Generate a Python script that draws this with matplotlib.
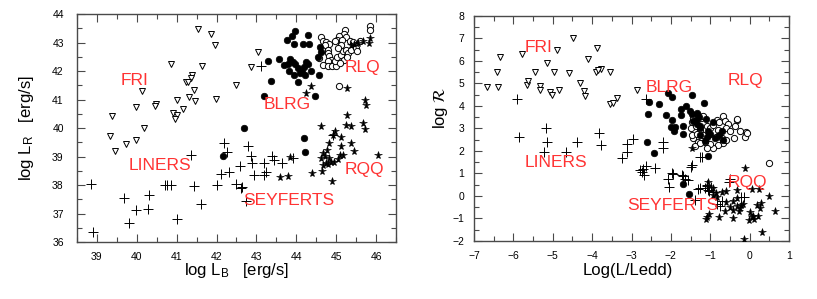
import matplotlib
matplotlib.use("Agg")
import matplotlib.pyplot as plt
from matplotlib.ticker import MultipleLocator

plt.rcParams['font.family'] = ['Liberation Sans', 'DejaVu Sans']
plt.rcParams['mathtext.fontset'] = 'custom'
plt.rcParams['mathtext.rm'] = 'Liberation Sans'
plt.rcParams['mathtext.it'] = 'Liberation Sans:italic'

# ---------------- LEFT PANEL DATA (log L_B, log L_R) ----------------
fri_lb = [41.54, 41.87, 41.95, 43.05, 42.86, 41.64, 40.85, 41.38, 41.37, 41.23, 41.28, 41.43, 41.31, 41.46,
          41.98, 42.50, 41.00, 41.17, 40.91, 41.02, 40.96, 40.13, 40.47, 40.45, 39.98, 39.38, 40.17, 39.32,
          39.99, 39.73, 39.46]
fri_lr = [43.46, 43.30, 42.92, 42.66, 42.15, 42.18, 42.23, 41.86, 41.74, 41.63, 41.60, 41.32, 41.08, 40.94,
          41.03, 41.50, 40.99, 40.67, 40.54, 40.45, 40.31, 41.31, 40.85, 40.77, 40.75, 40.43, 40.00, 39.71,
          39.59, 39.44, 39.18]

blrg_lb = [43.97, 43.89, 43.76, 44.30, 43.93, 44.16, 44.33, 44.60, 44.62, 43.28, 43.56, 43.85, 43.91, 43.79,
           43.97, 44.25, 44.29, 44.20, 43.81, 44.15, 44.10, 44.36, 44.22, 43.93, 44.58, 44.54, 44.04, 43.36,
           43.18, 44.47, 42.69, 44.20, 44.22, 42.16, 43.70, 44.05]
blrg_lr = [43.41, 43.24, 43.09, 43.27, 42.95, 42.94, 42.94, 42.85, 42.68, 42.34, 42.41, 42.41, 42.33, 42.25,
           42.25, 42.32, 42.24, 42.15, 42.01, 41.98, 41.92, 42.01, 41.86, 41.86, 41.85, 42.48, 41.62, 41.66,
           41.13, 41.13, 40.01, 39.64, 39.17, 39.02, 42.20, 42.10]

rlq_lb = [45.84, 45.86, 45.23, 45.19, 45.07, 45.25, 45.03, 45.15, 44.62, 44.67, 44.75, 44.83, 44.73, 44.65,
          44.79, 44.79, 44.83, 44.88, 44.79, 44.67, 44.79, 44.90, 45.00, 44.96, 45.03, 45.11, 45.17, 45.24,
          45.30, 45.38, 45.49, 45.52, 45.19, 45.28, 45.09, 44.96, 45.34, 45.42, 45.59, 45.13, 45.05, 45.07,
          44.58]
rlq_lr = [43.57, 43.45, 43.45, 43.30, 43.22, 43.19, 43.08, 43.10, 43.18, 43.06, 43.02, 42.95, 42.90, 42.75,
          42.75, 42.63, 42.52, 42.40, 42.34, 42.20, 42.16, 42.19, 42.16, 42.34, 42.48, 42.57, 42.69, 42.75,
          42.63, 42.75, 42.81, 42.69, 42.40, 42.48, 42.28, 43.04, 43.04, 43.02, 43.04, 42.90, 42.81, 41.46,
          42.46]

rqq_lb = [45.86, 45.83, 45.68, 45.55, 45.44, 45.38, 45.28, 44.36, 44.25, 45.73, 45.76, 45.28, 44.61, 45.24,
          45.36, 45.68, 45.72, 44.96, 44.92, 45.11, 44.83, 45.13, 45.36, 45.45, 44.77, 44.68, 44.71, 44.62,
          44.82, 44.88, 44.94, 44.75, 45.05, 45.17, 45.09, 44.67, 44.79, 46.05, 44.40, 44.64, 44.90, 43.60,
          43.79, 43.85]
rqq_lr = [43.16, 42.98, 43.06, 42.98, 42.95, 42.90, 41.40, 41.48, 41.23, 40.99, 40.81, 40.46, 40.08, 40.11,
          40.07, 40.19, 39.96, 39.91, 39.75, 39.67, 39.46, 39.37, 39.46, 39.20, 39.23, 39.11, 39.03, 38.94,
          38.94, 38.82, 38.82, 38.76, 38.90, 39.05, 39.05, 38.70, 38.73, 39.05, 38.43, 38.50, 38.15, 38.29,
          38.33, 38.97]

liners_lb = [38.89, 38.85, 39.67, 39.81, 39.99, 40.28, 40.30, 40.72, 40.76, 40.87, 41.00, 41.37, 41.43, 41.60,
             42.00]
liners_lr = [36.36, 38.04, 37.53, 36.66, 37.12, 37.15, 37.65, 38.00, 38.00, 38.00, 36.80, 39.05, 37.96, 37.33,
             38.00]

sey_lb = [42.11, 42.19, 42.25, 42.30, 42.48, 42.58, 42.65, 42.78, 42.86, 42.90, 42.93, 42.74, 43.11, 43.20,
          43.24, 43.18, 43.38, 43.45, 43.63, 43.91, 42.61, 44.92]
sey_lr = [38.39, 39.46, 39.17, 38.47, 38.04, 38.67, 37.92, 39.37, 39.02, 38.76, 38.35, 37.45, 42.19, 38.76,
          38.47, 38.35, 39.02, 38.88, 38.78, 38.94, 37.88, 39.75]

# ---------------- RIGHT PANEL DATA (log L/Ledd, log R) ----------------
fri_edd = [-6.66, -6.39, -6.41, -6.34, -5.79, -5.65, -5.62, -5.45, -5.32, -5.32, -5.14, -5.07, -5.03, -4.96,
           -4.89, -4.83, -4.58, -4.48, -4.31, -4.20, -4.17, -4.10, -3.87, -3.91, -3.78, -3.85, -3.54, -3.55,
           -3.46, -3.38, -2.87]
fri_r = [4.83, 4.83, 5.52, 6.17, 6.32, 4.95, 5.13, 5.52, 4.87, 4.73, 5.89, 4.61, 4.50, 5.52,
         6.51, 4.73, 5.47, 7.00, 5.00, 4.65, 4.43, 6.10, 6.59, 5.52, 5.65, 5.59, 5.52, 4.10,
         4.13, 4.36, 4.73]

blrg_edd = [-2.56, -2.30, -2.58, -2.13, -2.08, -1.97, -1.47, -1.16, -1.75, -1.62, -1.75, -1.98, -2.01, -1.90,
            -1.92, -1.69, -1.47, -1.35, -1.37, -1.28, -1.26, -1.11, -1.05, -0.94, -2.62, -1.52, -1.45, -1.33,
            -1.25, -1.26, -1.09, -1.01, -0.88, -0.77, -0.67, -0.71, -1.13, -1.70, -1.05, -1.69, -1.54, -2.42]
blrg_r = [4.18, 4.09, 3.66, 3.61, 4.58, 4.40, 4.47, 4.13, 3.88, 3.98, 3.58, 3.39, 3.06, 3.06,
          2.90, 2.75, 3.64, 3.69, 3.39, 3.51, 3.12, 3.42, 2.87, 3.31, 2.42, 3.76, 3.34, 3.20,
          3.02, 2.72, 2.64, 2.75, 2.57, 2.72, 2.50, 2.87, 2.45, 3.09, 1.77, 0.55, 0.07, 1.93]

rlq_edd = [-1.47, -1.43, -1.32, -1.23, -1.18, -1.49, -1.37, -1.26, -1.09, -1.01, -0.93, -0.84, -0.77, -0.67,
           -0.63, -0.55, -0.60, -0.50, -0.38, -0.32, -0.25, -0.10, -0.12, -0.40, -0.67, -0.80, -0.93, -1.01,
           -1.14, -1.31, -1.43, -1.47, -1.39, -1.26, -1.09, -0.86, -0.71, -0.59, -0.80, -1.05, -1.18, -1.35,
           0.49, -0.08, -0.33]
rlq_r = [3.31, 3.46, 3.61, 3.46, 3.54, 3.04, 3.09, 2.90, 3.09, 3.02, 3.17, 3.39, 3.29, 3.54,
         3.34, 3.20, 3.02, 2.87, 3.09, 3.39, 2.87, 2.84, 2.64, 2.57, 2.35, 2.27, 2.15, 2.30,
         2.42, 2.42, 2.57, 2.72, 2.20, 2.35, 2.13, 2.64, 2.57, 2.50, 2.94, 2.72, 2.72, 2.75,
         1.48, 2.82, 3.42]

rqq_edd = [-0.12, -1.05, -0.93, -0.32, 0.05, 0.23, 0.48, 0.64, -0.84, -0.86, -0.71, -0.60, -0.94, -0.59,
           -0.42, -0.32, -0.23, -0.33, -0.43, -0.27, -0.63, -0.50, -0.42, -0.79, -1.08, -1.11, -1.03, 0.01,
           0.05, 0.09, -0.01, 0.12, 0.22, 0.26, 0.19, 0.30, 0.32, -0.14, -1.47, -0.25, -0.18]
rqq_r = [1.24, 0.60, 0.37, 0.26, 0.31, 0.31, 0.02, -0.66, -0.04, 0.12, 0.16, 0.22, 0.04, -0.25,
         -0.23, -0.11, -0.38, -0.44, -0.63, -0.67, -0.65, -0.48, -1.00, -0.93, -0.95, -1.03, -0.78, -0.73,
         -0.95, -0.90, -1.08, -1.04, -0.90, -0.55, -0.41, -0.32, -1.58, -1.90, 2.15, -0.55, -0.36]

liners_edd = [-5.92, -5.17, -5.85, -5.14, -4.38, -3.82, -3.78, -3.11, -2.97, -5.22, -4.67, -3.12, -3.25]
liners_r = [4.33, 3.04, 2.62, 2.38, 2.42, 2.82, 2.27, 2.32, 2.53, 1.97, 1.97, 1.97, 1.68]

sey_edd = [-2.63, -2.70, -2.74, -2.69, -2.63, -2.21, -2.21, -2.79, -2.41, -1.98, -2.07, -2.04, -1.73, -1.64,
           -1.49, -1.25, -1.31, -1.14, -1.03, -1.08, -0.76, -0.82, -0.50, -0.15, -1.47, -1.22, -1.94, -1.69,
           -1.56, -1.26, -1.09, -0.97, -1.05, -0.93, -1.39, -0.71, -0.21, -0.52]
sey_r = [4.31, 1.19, 1.08, 0.93, 1.33, 2.42, 2.12, 1.16, 1.23, 1.01, 0.74, 0.41, 0.93, 0.74,
         1.30, 1.72, 0.29, 0.34, 0.23, 0.44, -0.45, -0.36, 0.74, -0.04, 1.38, 1.75, 0.96, 0.90,
         0.71, 0.37, 0.49, 0.41, 0.26, 0.16, -0.18, -0.23, -0.04, 0.63]

left_xticks = [39, 40, 41, 42, 43, 44, 45, 46]
left_yticks = [36, 37, 38, 39, 40, 41, 42, 43, 44]
right_xticks = [-7, -6, -5, -4, -3, -2, -1, 0, 1]
right_yticks = [-2, -1, 0, 1, 2, 3, 4, 5, 6, 7, 8]

# label text, anchor (left edge, vertical centre)
left_labels = [("FRI", 39.6, 41.65), ("BLRG", 43.18, 40.83), ("RLQ", 45.2, 42.14),
               ("LINERS", 39.8, 38.67), ("SEYFERTS", 42.68, 37.47), ("RQQ", 45.21, 38.56)]
right_labels = [("FRI", -5.71, 6.61), ("BLRG", -2.63, 4.84), ("RLQ", -0.57, 5.12),
                ("LINERS", -5.71, 1.50), ("SEYFERTS", -3.12, -0.43), ("RQQ", -0.57, 0.61)]

RED = '#ff3333'
FRAME = '#4a4a4a'

fig = plt.figure(figsize=(8.17, 2.99), dpi=100)
axL = fig.add_axes([0.0942, 0.1906, 0.3905, 0.7625])
axR = fig.add_axes([0.5802, 0.194, 0.3856, 0.7525])

def style(ax, xt, yt, xlim, ylim, ypad):
    ax.set_xlim(*xlim)
    ax.set_ylim(*ylim)
    ax.set_xticks(xt)
    ax.set_yticks(yt)
    ax.xaxis.set_minor_locator(MultipleLocator(0.5))
    ax.yaxis.set_minor_locator(MultipleLocator(0.5))
    ax.tick_params(which='both', direction='in', top=True, right=True, color=FRAME, width=0.8)
    ax.tick_params(which='major', length=5.5)
    ax.tick_params(which='minor', length=3.5)
    ax.tick_params(axis='x', which='major', pad=7, labelsize=7.5)
    ax.tick_params(axis='y', which='major', pad=ypad, labelsize=7.5)
    for s in ax.spines.values():
        s.set_color(FRAME)
        s.set_linewidth(1.0)

def pts(ax, x, y, marker, ms, filled, mew=0.7, z=3):
    ax.plot(x, y, linestyle='none', marker=marker, markersize=ms,
            markerfacecolor='black' if filled else 'white', markeredgecolor='black',
            markeredgewidth=mew, zorder=z)

# left panel
style(axL, left_xticks, left_yticks, (38.5, 46.5), (36, 44), 9.5)
pts(axL, fri_lb, fri_lr, 'v', 4.8, False)
pts(axL, liners_lb, liners_lr, '+', 7, True, 0.7)
pts(axL, sey_lb, sey_lr, '+', 7, True, 0.7)
pts(axL, rlq_lb, rlq_lr, 'o', 4.5, False, 0.7)
pts(axL, blrg_lb, blrg_lr, 'o', 4.7, True, 0.5)
pts(axL, rqq_lb, rqq_lr, '*', 5.8, True, 0.4)
for t, x, y in left_labels:
    axL.text(x, y, t, color=RED, fontsize=12.5, ha='left', va='center', zorder=5)

# right panel
style(axR, right_xticks, right_yticks, (-7, 1), (-2, 8), 7)
pts(axR, fri_edd, fri_r, 'v', 4.8, False)
pts(axR, liners_edd, liners_r, '+', 7, True, 0.7)
pts(axR, sey_edd, sey_r, '+', 7, True, 0.7)
pts(axR, rlq_edd, rlq_r, 'o', 4.5, False, 0.7)
pts(axR, blrg_edd, blrg_r, 'o', 4.7, True, 0.5)
pts(axR, rqq_edd, rqq_r, '*', 5.8, True, 0.4)
for t, x, y in right_labels:
    axR.text(x, y, t, color=RED, fontsize=12.5, ha='left', va='center', zorder=5)

# axis labels
fig.text(237 / 817, 1 - 271 / 299, r'log L$_{\mathrm{B}}$   [erg/s]', ha='center', va='center', fontsize=12)
fig.text(27 / 817, 1 - 128 / 299, r'log L$_{\mathrm{R}}$   [erg/s]', ha='center', va='center',
         fontsize=12, rotation=90)
fig.text(628 / 817, 1 - 271 / 299, 'Log(L/Ledd)', ha='center', va='center', fontsize=12)
fig.text(441 / 817, 1 - 108 / 299, r'log $\mathcal{R}$', ha='center', va='center', fontsize=12,
         rotation=90, math_fontfamily='stix')

fig.savefig('out.png', dpi=100)
